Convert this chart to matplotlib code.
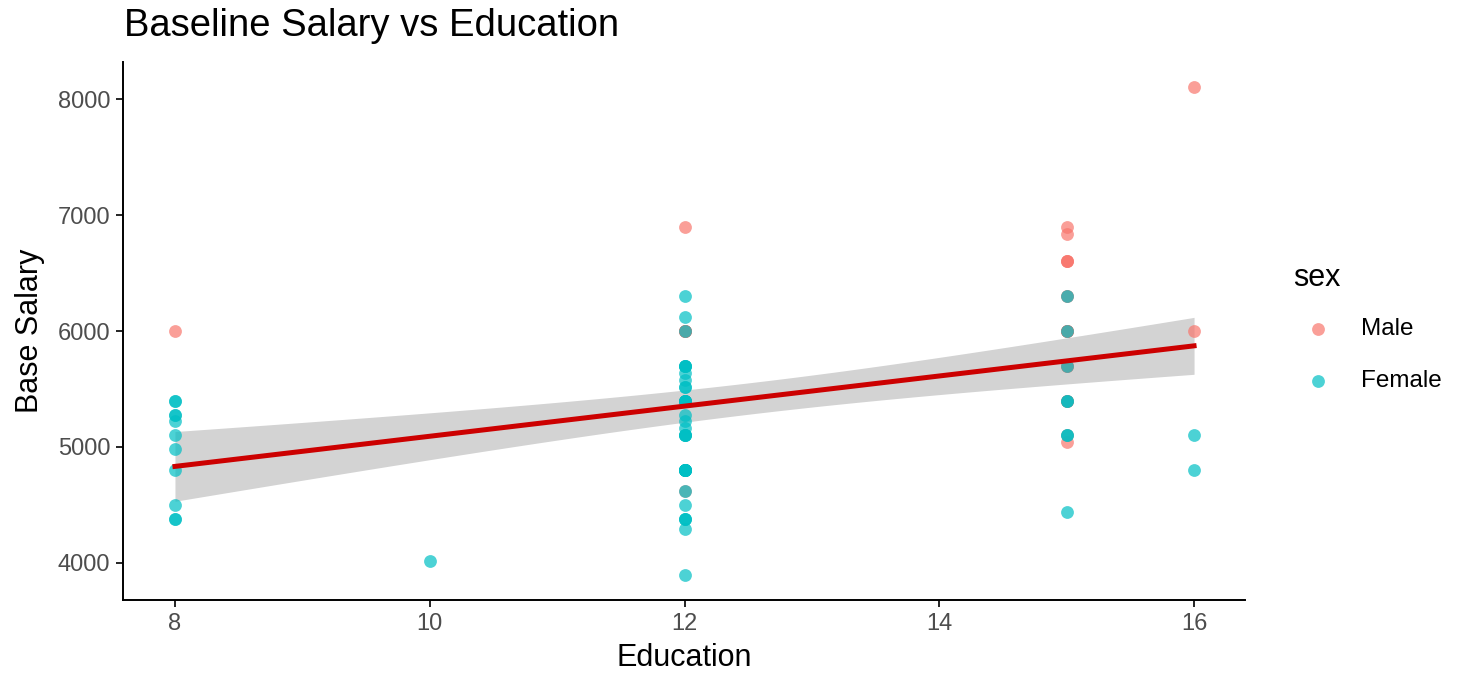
import numpy as np
import matplotlib
matplotlib.use("Agg")
import matplotlib.pyplot as plt

plt.rcParams["font.family"] = ["Liberation Sans", "DejaVu Sans"]

# Data (overlapping points repeated where the dots look darker)
male_edu = [8] + [12] * 9 + [15] * 20 + [16] * 2
male_sal = [6000,
            6900, 6000, 6000, 6000, 6000, 6000, 5400, 5400, 4620,
            6900, 6840, 6600, 6600, 6600, 6300, 6300, 6000, 6000, 6000, 6000, 6000,
            5700, 5700, 5700, 5400, 5400, 5400, 5100, 5040,
            8100, 6000]

female_edu = [8] * 11 + [10] + [12] * 39 + [15] * 8 + [16] * 2
female_sal = [5400, 5400, 5280, 5280, 5220, 5100, 4980, 4800, 4500, 4380, 4380,
              4020,
              6300, 6120, 6000, 5700, 5700, 5700, 5700, 5640, 5580, 5520, 5520, 5400,
              5400, 5400, 5400, 5400, 5280, 5220, 5160, 5100, 5100, 5100, 5100, 4800,
              4800, 4800, 4800, 4800, 4800, 4800, 4800, 4800, 4620, 4500, 4380, 4380,
              4380, 4290, 3900,
              6300, 6000, 5700, 5400, 5400, 5100, 5100, 4440,
              5100, 4800]

x_ticks = [8, 10, 12, 14, 16]
y_ticks = [4000, 5000, 6000, 7000, 8000]

male_col = "#F8766D"
female_col = "#00BFC4"

# linear fit with 95% confidence band over all points
x = np.array(male_edu + female_edu, dtype=float)
y = np.array(male_sal + female_sal, dtype=float)
n = len(x)
b, a = np.polyfit(x, y, 1)
resid = y - (a + b * x)
s = np.sqrt(np.sum(resid ** 2) / (n - 2))
sxx = np.sum((x - x.mean()) ** 2)
xs = np.linspace(x.min(), x.max(), 100)
ys = a + b * xs
se = s * np.sqrt(1 / n + (xs - x.mean()) ** 2 / sxx)
t = 1.986  # t quantile, ~91 df

fig = plt.figure(figsize=(14.58, 6.74), dpi=100)
ax = fig.add_axes([123 / 1458, 1 - 600 / 674, (1245 - 123) / 1458, (600 - 62) / 674])

ax.fill_between(xs, ys - t * se, ys + t * se, color="#D3D3D3", lw=0, zorder=1)
ax.scatter(male_edu, male_sal, s=85, color=male_col, alpha=0.7, lw=0, zorder=2)
ax.scatter(female_edu, female_sal, s=85, color=female_col, alpha=0.7, lw=0, zorder=2)
ax.plot(xs, ys, color="#CC0000", lw=3.6, zorder=3)

ax.set_xlim(7.592, 16.40)
ax.set_ylim(3681, 8319)
ax.set_xticks(x_ticks)
ax.set_yticks(y_ticks)
ax.tick_params(labelsize=17, labelcolor="#4D4D4D", length=5, width=1.2, pad=4)
for side in ["top", "right"]:
    ax.spines[side].set_visible(False)
for side in ["left", "bottom"]:
    ax.spines[side].set_linewidth(1.4)

ax.set_xlabel("Education", fontsize=22, labelpad=6)
ax.set_ylabel("Base Salary", fontsize=22, labelpad=9)
fig.text(124 / 1458, 1 - 26 / 674, "Baseline Salary vs Education", fontsize=27.5, va="center", ha="left")

# legend
fig.text(1293 / 1458, 1 - 278 / 674, "sex", fontsize=22, va="center", ha="left")
for lab, col, py in [("Male", male_col, 329), ("Female", female_col, 381)]:
    ax.scatter([1318 / 1458], [1 - py / 674], s=85, color=col, alpha=0.7, lw=0,
               transform=fig.transFigure, clip_on=False)
    fig.text(1361 / 1458, 1 - py / 674, lab, fontsize=17.5, va="center", ha="left")

fig.savefig("out.png", dpi=100)
